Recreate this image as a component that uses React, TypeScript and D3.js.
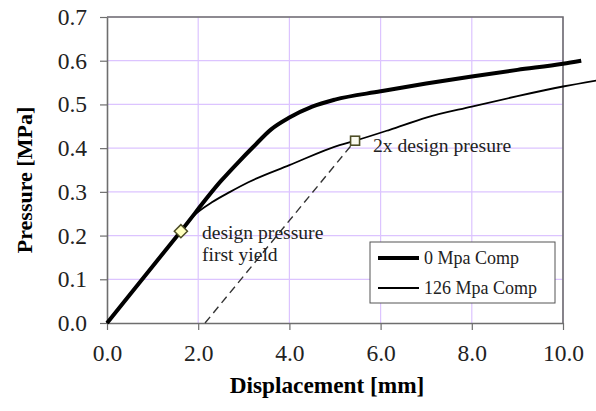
import React, { useEffect, useRef } from 'react';
import * as d3 from 'd3';

// displacement [mm] vs pressure [MPa]
const comp0: [number, number][] = [
  [0, 0], [1.62, 0.21], [2.5, 0.325], [2.9, 0.37], [3.2, 0.402], [3.6, 0.443],
  [4.0, 0.47], [4.5, 0.495], [5.0, 0.511], [6.0, 0.53], [7.0, 0.548],
  [8.0, 0.564], [9.0, 0.579], [10.0, 0.593], [10.4, 0.6],
];
const comp126: [number, number][] = [
  [0, 0], [1.62, 0.21], [1.9, 0.245], [2.3, 0.276], [2.7, 0.3], [3.1, 0.322],
  [4.0, 0.361], [5.1, 0.407], [5.44, 0.417], [6.2, 0.442], [7.0, 0.47],
  [8.0, 0.495], [9.0, 0.519], [10.0, 0.541], [10.8, 0.556],
];
const unloadLine: [number, number][] = [[2.15, 0], [5.44, 0.417]];
const firstYield: [number, number] = [1.62, 0.21];
const doubleDesign: [number, number] = [5.44, 0.417];
const xTicks = [0, 2, 4, 6, 8, 10];
const yTicks = [0, 0.1, 0.2, 0.3, 0.4, 0.5, 0.6, 0.7];
const legendLabels = ['0 Mpa Comp', '126 Mpa Comp'];

const App = () => {
  const ref = useRef<SVGSVGElement>(null);

  useEffect(() => {
    if (!ref.current) return;
    const svg = d3.select(ref.current);
    svg.selectAll('*').remove();

    const left = 107, right = 563, top = 17, bottom = 323;
    const x = d3.scaleLinear().domain([0, 10]).range([left, right]);
    const y = d3.scaleLinear().domain([0, 0.7]).range([bottom, top]);
    const font = "'Liberation Serif', serif";
    const grid = '#dcc4ff';
    const axisCol = '#6e6e6e';

    // gridlines
    svg.append('g')
      .selectAll('line')
      .data(yTicks.slice(1))
      .enter()
      .append('line')
      .attr('x1', left).attr('x2', right)
      .attr('y1', d => y(d)).attr('y2', d => y(d))
      .attr('stroke', grid).attr('stroke-width', 1.2);
    svg.append('g')
      .selectAll('line')
      .data(xTicks.slice(1))
      .enter()
      .append('line')
      .attr('x1', d => x(d)).attr('x2', d => x(d))
      .attr('y1', top).attr('y2', bottom)
      .attr('stroke', grid).attr('stroke-width', 1.2);

    // plot border (top and right)
    svg.append('path')
      .attr('d', `M${left},${top}H${right}V${bottom}`)
      .attr('fill', 'none')
      .attr('stroke', axisCol)
      .attr('stroke-width', 1.6);

    // axes
    const xAxis = svg.append('g')
      .attr('transform', `translate(0,${bottom})`)
      .call(d3.axisBottom(x).tickValues(xTicks).tickFormat(d3.format('.1f')).tickSize(7).tickSizeOuter(0));
    const yAxis = svg.append('g')
      .attr('transform', `translate(${left},0)`)
      .call(d3.axisLeft(y).tickValues(yTicks).tickFormat(d3.format('.1f')).tickSize(7).tickSizeOuter(0));
    [xAxis, yAxis].forEach(a => {
      a.attr('font-family', null);
      a.select('.domain').attr('stroke', axisCol).attr('stroke-width', 1.6);
      a.selectAll('.tick line').attr('stroke', axisCol).attr('stroke-width', 1.2);
      a.selectAll('.tick text')
        .attr('fill', '#222')
        .style('font-family', font)
        .style('font-size', '23.5px');
    });
    xAxis.selectAll('.tick text').attr('dy', '0.9em').attr('y', 17);
    yAxis.selectAll('.tick text').attr('x', -20);

    // axis titles
    svg.append('text')
      .attr('x', 327).attr('y', 393)
      .attr('text-anchor', 'middle')
      .style('font-family', font)
      .style('font-size', '23.3px')
      .style('font-weight', 'bold')
      .text('Displacement [mm]');
    svg.append('text')
      .attr('transform', 'translate(32,180) rotate(-90)')
      .attr('text-anchor', 'middle')
      .style('font-family', font)
      .style('font-size', '22px')
      .style('font-weight', 'bold')
      .text('Pressure [MPa]');

    const line = d3.line<[number, number]>()
      .x(d => x(d[0]))
      .y(d => y(d[1]))
      .curve(d3.curveMonotoneX);

    // unloading dashed line
    svg.append('path')
      .attr('d', d3.line<[number, number]>().x(d => x(d[0])).y(d => y(d[1]))(unloadLine))
      .attr('fill', 'none')
      .attr('stroke', '#333')
      .attr('stroke-width', 1.4)
      .attr('stroke-dasharray', '8,5');

    svg.append('path')
      .attr('d', line(comp126))
      .attr('fill', 'none')
      .attr('stroke', '#000')
      .attr('stroke-width', 1.8);
    svg.append('path')
      .attr('d', line(comp0))
      .attr('fill', 'none')
      .attr('stroke', '#000')
      .attr('stroke-width', 4);

    // markers
    svg.append('path')
      .attr('d', d3.symbol().type(d3.symbolDiamond2).size(110)())
      .attr('transform', `translate(${x(firstYield[0])},${y(firstYield[1])})`)
      .attr('fill', '#ffffbf')
      .attr('stroke', '#4d4d26')
      .attr('stroke-width', 1.5);
    svg.append('rect')
      .attr('x', x(doubleDesign[0]) - 4.5)
      .attr('y', y(doubleDesign[1]) - 4.5)
      .attr('width', 9).attr('height', 9)
      .attr('fill', '#fbfbf0')
      .attr('stroke', '#4d4d26')
      .attr('stroke-width', 1.6);

    // annotations
    const ann = svg.append('g')
      .style('font-family', font)
      .style('font-size', '19.6px')
      .attr('fill', '#222');
    ann.append('text').attr('x', 202).attr('y', 239).text('design pressure');
    ann.append('text').attr('x', 202).attr('y', 261).text('first yield');
    ann.append('text').attr('x', 373).attr('y', 152).text('2x design presure');

    // legend
    const lg = svg.append('g');
    lg.append('rect')
      .attr('x', 370).attr('y', 242)
      .attr('width', 185).attr('height', 61)
      .attr('fill', '#fff')
      .attr('stroke', '#555')
      .attr('stroke-width', 1);
    legendLabels.forEach((lab, i) => {
      const ly = 258 + i * 30;
      lg.append('line')
        .attr('x1', 378).attr('x2', 419)
        .attr('y1', ly).attr('y2', ly)
        .attr('stroke', '#000')
        .attr('stroke-width', i === 0 ? 4 : 1.8);
      lg.append('text')
        .attr('x', 424).attr('y', ly + 6)
        .style('font-family', font)
        .style('font-size', '18px')
        .attr('fill', '#222')
        .text(lab);
    });
  }, []);

  return (
    <svg ref={ref} width={596} height={411}
      style={{ position: 'absolute', left: 0, top: 0, background: '#fff' }} />
  );
};

export default App;
